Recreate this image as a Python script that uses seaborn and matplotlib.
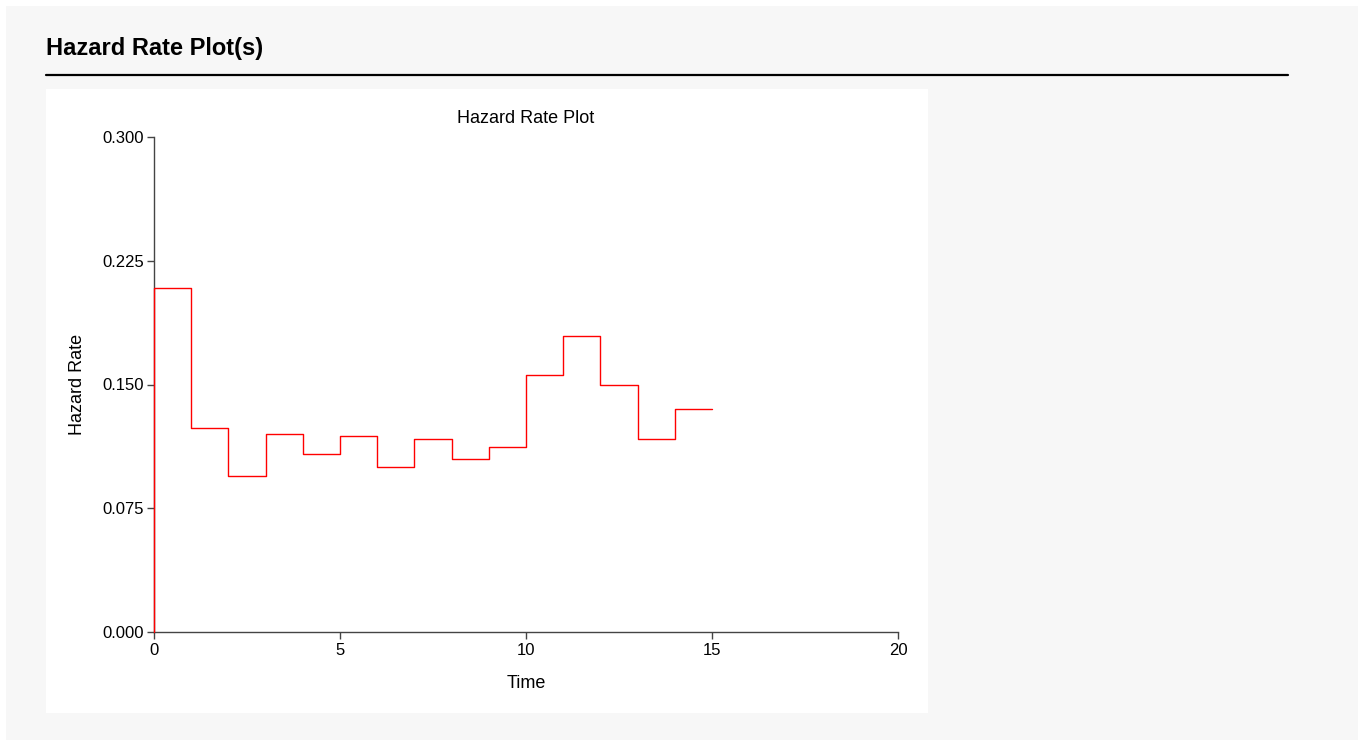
import matplotlib.pyplot as plt
import matplotlib.patches as mpatches
import numpy as np
import pandas as pd
import seaborn as sb

# Hazard rate per unit time interval
interval_start = [0, 1, 2, 3, 4, 5, 6, 7, 8, 9, 10, 11, 12, 13, 14]
hazard_rate = [0.2085, 0.1236, 0.0943, 0.1200, 0.1080, 0.1188, 0.1001,
               0.1172, 0.1048, 0.1122, 0.1555, 0.1796, 0.1495, 0.1172, 0.1352]
x_ticks = [0, 5, 10, 15, 20]
y_ticks = [0.000, 0.075, 0.150, 0.225, 0.300]

# step line: start from zero at time 0, hold last value to the end of the last interval
step_x = [interval_start[0]] + interval_start + [interval_start[-1] + 1]
step_y = [0.0] + hazard_rate + [hazard_rate[-1]]
df = pd.DataFrame({'Time': step_x, 'Hazard Rate': step_y})

sb.set_style('white')
plt.rcParams['font.family'] = ['Liberation Sans', 'DejaVu Sans']
plt.rcParams['text.color'] = 'black'
plt.rcParams['axes.labelcolor'] = 'black'
plt.rcParams['xtick.color'] = 'black'
plt.rcParams['ytick.color'] = 'black'

W, H = 1358, 740
fig = plt.figure(figsize=(W / 100, H / 100), dpi=100)
fig.patch.set_facecolor('white')

# page background and white plot panel
fig.patches.append(mpatches.Rectangle((6 / W, 0), 1, 1 - 6 / H, transform=fig.transFigure,
                                      facecolor='#f7f7f7', edgecolor='none', zorder=-2))
fig.patches.append(mpatches.Rectangle((46 / W, 1 - 713 / H), (928 - 46) / W, (713 - 89) / H,
                                      transform=fig.transFigure, facecolor='white',
                                      edgecolor='none', zorder=-1))
fig.text(46 / W, 1 - 48 / H, 'Hazard Rate Plot(s)', fontsize=17, fontweight='bold',
         va='center', ha='left', color='black')
fig.add_artist(plt.Line2D([46 / W, 1288 / W], [1 - 75 / H, 1 - 75 / H], color='black',
                          lw=1.6, transform=fig.transFigure))

ax = fig.add_axes([154 / W, 1 - 632 / H, (898 - 154) / W, (632 - 137) / H])
ax.set_facecolor('none')
sb.lineplot(data=df, x='Time', y='Hazard Rate', estimator=None, sort=False,
            drawstyle='steps-post', color='red', lw=1, ax=ax, zorder=3)

ax.set_xlim(0, 20)
ax.set_ylim(0, 0.3)
ax.set_xticks(x_ticks)
ax.set_yticks(y_ticks)
ax.set_yticklabels([f'{v:.3f}' for v in y_ticks])
for side in ['top', 'right']:
    ax.spines[side].set_visible(False)
for side in ['left', 'bottom']:
    ax.spines[side].set_color('#444444')
    ax.spines[side].set_linewidth(1)
ax.tick_params(axis='both', direction='out', length=5, width=1, color='#444444',
               labelsize=12, bottom=True, left=True)
ax.tick_params(axis='x', pad=3)
ax.tick_params(axis='y', pad=2)
ax.set_title('Hazard Rate Plot', fontsize=13, pad=10, color='black')
ax.set_xlabel('Time', fontsize=13, labelpad=12)
ax.set_ylabel('Hazard Rate', fontsize=13, labelpad=12)
for line in ax.lines:
    line.set_clip_on(False)

fig.savefig('out.png', dpi=100)
